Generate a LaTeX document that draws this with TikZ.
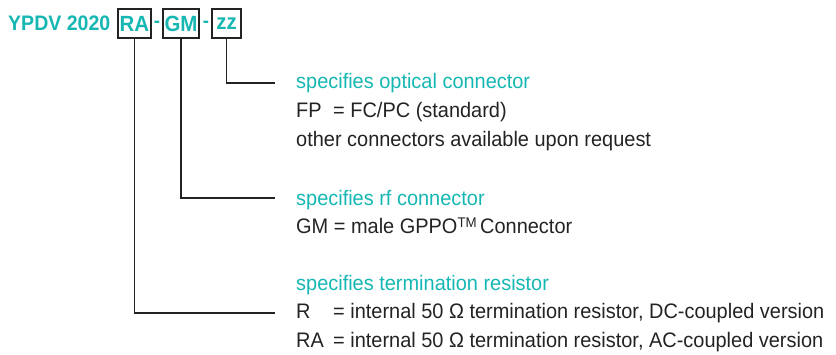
\documentclass[tikz,border=0pt]{standalone}
\usepackage{fontspec}
\setmainfont{Liberation Sans}[FakeStretch=0.95]
\newfontfamily\titlefont{Liberation Sans}[FakeStretch=0.93]
\definecolor{teal}{RGB}{22,183,178}
\definecolor{ink}{RGB}{35,35,35}
\begin{document}
\begin{tikzpicture}[x=1pt,y=-1pt,
  body/.style={anchor=base west,inner sep=0pt,text=ink,font=\fontsize{21}{22}\selectfont},
  head/.style={anchor=base west,inner sep=0pt,text=teal,font=\fontsize{21}{22}\selectfont},
  code/.style={draw=ink,line width=1.2pt,text=teal,inner sep=0pt,minimum height=29pt,font=\titlefont\fontsize{22}{22}\bfseries\selectfont},
  conn/.style={draw=ink,line width=1.2pt}]
\useasboundingbox (0,0) rectangle (836,354);
\node[anchor=base west,inner sep=0pt,text=teal,font=\titlefont\fontsize{21}{22}\bfseries\selectfont] (ypdv) at (8,30) {YPDV 2020};
\node[code,minimum width=33pt] (ra) at (134.5,23.5) {RA};
\node[anchor=center,inner sep=0pt,text=teal,font=\titlefont\fontsize{20}{22}\bfseries\selectfont] (d1) at (157,24) {-};
\node[code,minimum width=36pt] (gm) at (181,23.5) {GM};
\node[anchor=center,inner sep=0pt,text=teal,font=\titlefont\fontsize{20}{22}\bfseries\selectfont] (d2) at (206,24) {-};
\node[code,minimum width=29pt] (zz) at (226.5,23.5) {zz};
\coordinate (zzend) at (275,83);
\coordinate (gmend) at (275,198);
\coordinate (raend) at (275,313);
\draw[conn] (zz.south) |- (zzend);
\draw[conn] (gm.south) |- (gmend);
\draw[conn] (ra.south) |- (raend);
\node[head] (h1) at (296,88) {specifies optical connector};
\node[body] (t1) at (296,117) {\makebox[37pt][l]{FP}= FC/PC (standard)};
\node[body] (t2) at (296,146) {other connectors available upon request};
\node[head] (h2) at (296,205) {specifies rf connector};
\node[body] (t3) at (296,233) {GM = male GPPO\raisebox{6pt}{\fontsize{14}{14}\selectfont TM}\,Connector};
\node[head] (h3) at (296,290) {specifies termination resistor};
\node[body] (t4) at (296,318) {\makebox[37pt][l]{R}= internal 50 Ω termination resistor, DC-coupled version};
\node[body] (t5) at (296,347) {\makebox[37pt][l]{RA}= internal 50 Ω termination resistor, AC-coupled version};
\end{tikzpicture}
\end{document}
